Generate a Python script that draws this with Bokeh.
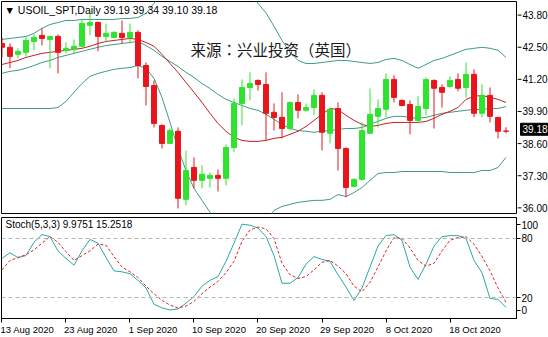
from bokeh.plotting import figure
from bokeh.layouts import column, row
from bokeh.models import (ColumnDataSource, Range1d, FixedTicker, Label, Span,
                          LinearAxis)
from bokeh.core.properties import value
from bokeh.embed import file_html
from bokeh.resources import INLINE

# ---------------- data ----------------
symbol = "USOIL_SPT"
timeframe = "Daily"
watermark = "来源：兴业投资（英国）"

open_ = [42.65, 42.50, 42.22, 42.30, 42.73, 42.97, 42.81, 42.93, 42.38, 42.42,
         42.54, 43.37, 43.48, 42.93, 42.89, 43.05, 42.89, 43.09, 41.78, 40.99,
         39.41, 38.70, 39.18, 36.49, 37.75, 37.24, 37.32, 37.44, 37.32, 38.54,
         40.28, 40.91, 41.19, 41.03, 39.93, 39.73, 39.29, 40.32, 40.01, 40.12,
         40.60, 39.10, 40.08, 38.50, 37.00, 37.28, 39.10, 39.77, 40.05, 41.23,
         40.40, 40.24, 39.61, 40.08, 41.19, 40.91, 40.95, 41.23, 40.91, 41.43,
         39.89, 40.60, 39.73, 39.19]
high = [42.89, 42.65, 42.46, 42.93, 43.01, 43.25, 42.93, 43.01, 42.69, 42.81,
        43.60, 43.84, 43.52, 43.44, 43.13, 43.56, 43.44, 43.17, 41.90, 41.19,
        39.45, 39.29, 39.33, 38.42, 38.15, 37.83, 37.55, 37.67, 38.66, 40.48,
        41.23, 41.51, 41.23, 41.51, 40.28, 40.72, 40.36, 40.64, 40.28, 40.84,
        40.72, 40.08, 40.32, 38.54, 37.32, 39.53, 40.87, 40.44, 41.47, 41.39,
        40.44, 40.40, 40.56, 41.31, 41.23, 41.03, 41.35, 41.47, 41.90, 41.63,
        41.03, 40.91, 39.73, 39.34]
low = [42.10, 41.67, 42.06, 42.14, 42.38, 42.57, 41.67, 41.47, 42.26, 42.26,
       42.50, 42.97, 42.34, 42.69, 42.85, 42.65, 42.65, 41.27, 40.20, 39.33,
       38.50, 38.70, 36.13, 36.25, 36.92, 36.92, 36.96, 36.80, 37.04, 38.35,
       39.41, 40.40, 40.79, 38.82, 39.21, 38.90, 39.21, 39.69, 39.97, 39.81,
       38.42, 38.70, 37.63, 36.57, 36.96, 37.24, 39.10, 39.33, 39.73, 40.32,
       40.16, 39.06, 39.49, 39.81, 39.29, 40.12, 40.91, 40.76, 40.52, 39.73,
       39.73, 39.53, 38.90, 39.10]
close = [42.50, 42.14, 42.34, 42.77, 42.89, 42.85, 42.93, 42.30, 42.46, 42.54,
         43.44, 43.48, 42.93, 43.05, 43.09, 42.89, 43.09, 41.78, 40.95, 39.49,
         38.70, 39.21, 36.53, 37.63, 37.24, 37.48, 37.44, 37.32, 38.54, 40.28,
         40.91, 41.07, 41.03, 39.89, 39.73, 39.29, 40.32, 40.01, 40.12, 40.60,
         39.14, 40.05, 38.50, 36.96, 37.28, 39.21, 39.85, 40.08, 41.23, 40.52,
         40.20, 39.61, 40.16, 41.23, 40.88, 40.72, 41.19, 40.88, 41.43, 39.89,
         40.60, 39.77, 39.18, 39.18]

bb_upper = [42.81, 42.85, 42.89, 42.93, 43.05, 43.25, 43.40, 43.48, 43.56, 43.56,
            43.60, 43.60, 43.60, 43.60, 43.60, 43.64, 43.64, 43.68, 43.84, 44.24,
            44.70, 45.10, 45.50, 45.80, 46.00, 46.10, 46.10, 46.00, 45.80, 45.50,
            45.10, 44.55, 44.24, 43.86, 43.33, 42.77, 42.30, 41.98, 41.86, 41.86,
            41.90, 41.94, 41.98, 41.98, 41.94, 41.90, 41.86, 41.90, 42.02, 42.06,
            41.98, 41.82, 41.67, 41.82, 41.98, 42.06, 42.18, 42.30, 42.42, 42.46,
            42.50, 42.46, 42.38, 42.10]
bb_middle = [41.47, 41.55, 41.59, 41.67, 41.78, 41.90, 41.98, 42.10, 42.18, 42.26,
             42.34, 42.42, 42.50, 42.57, 42.61, 42.65, 42.69, 42.73, 42.57, 42.38,
             42.14, 41.94, 41.74, 41.51, 41.31, 41.07, 40.87, 40.64, 40.44, 40.32,
             40.20, 40.08, 40.01, 39.85, 39.65, 39.45, 39.29, 39.21, 39.18, 39.14,
             39.18, 39.21, 39.25, 39.29, 39.29, 39.33, 39.45, 39.57, 39.69, 39.77,
             39.77, 39.73, 39.69, 39.73, 39.81, 39.89, 39.93, 39.97, 40.01, 40.04,
             40.04, 40.08, 40.08, 40.16]
bb_lower = [40.08, 40.08, 40.08, 40.08, 40.08, 40.08, 40.08, 40.12, 40.36, 40.72,
            41.07, 41.35, 41.47, 41.55, 41.63, 41.67, 41.70, 41.78, 41.67, 41.27,
            40.52, 39.53, 38.50, 37.63, 36.92, 36.45, 35.98, 35.58, 35.20, 34.95,
            34.90, 35.00, 35.20, 35.55, 36.05, 36.21, 36.29, 36.37, 36.41, 36.45,
            36.45, 36.49, 36.68, 36.60, 36.76, 36.96, 37.24, 37.51, 37.55, 37.55,
            37.59, 37.59, 37.59, 37.59, 37.59, 37.59, 37.55, 37.55, 37.55, 37.55,
            37.63, 37.63, 37.75, 38.15]
ma_red = [41.82, 41.90, 41.98, 42.10, 42.18, 42.26, 42.30, 42.34, 42.38, 42.42,
          42.46, 42.54, 42.65, 42.73, 42.77, 42.81, 42.85, 42.81, 42.69, 42.54,
          42.22, 41.86, 41.51, 41.11, 40.72, 40.32, 39.89, 39.49, 39.18, 38.94,
          38.82, 38.78, 38.78, 38.82, 38.90, 38.94, 39.06, 39.18, 39.37, 39.61,
          39.85, 40.08, 40.04, 39.81, 39.61, 39.45, 39.37, 39.41, 39.49, 39.53,
          39.53, 39.53, 39.53, 39.57, 39.69, 39.85, 39.97, 40.12, 40.44, 40.56,
          40.60, 40.52, 40.44, 40.32]

stoch_k = [59.7, 65.5, 60.6, 62.6, 76.1, 83.9, 81.9, 67.4, 59.7, 52.9,
           67.4, 79.0, 75.2, 60.6, 47.1, 46.1, 44.2, 37.4, 29.7, 13.2,
           9.4, 7.4, 8.4, 14.2, 21.0, 31.6, 37.4, 41.3, 56.8, 75.2,
           94.5, 93.5, 90.6, 81.9, 62.6, 34.5, 34.5, 40.3, 53.9, 61.6,
           58.7, 56.8, 43.2, 30.6, 17.1, 29.7, 51.0, 72.3, 83.0, 83.9,
           78.1, 51.0, 38.4, 53.9, 72.3, 81.9, 82.9, 82.9, 80.0, 57.7,
           45.2, 19.0, 18.1, 9.9751]
stoch_d = [48.1, 57.7, 60.6, 63.5, 68.4, 75.2, 81.9, 76.1, 66.5, 57.7,
           62.6, 67.4, 74.2, 73.2, 61.6, 51.0, 46.1, 40.3, 31.6, 23.9,
           17.1, 12.3, 9.4, 11.3, 16.1, 23.9, 30.6, 36.5, 45.2, 56.8,
           77.1, 88.7, 91.6, 89.7, 80.0, 54.8, 43.2, 39.4, 41.3, 48.1,
           55.8, 57.7, 51.9, 44.2, 31.6, 25.8, 35.5, 51.0, 67.4, 81.0,
           80.0, 70.3, 57.7, 51.9, 54.8, 67.4, 78.1, 81.0, 81.9, 74.2,
           61.6, 47.1, 29.7, 15.2518]

price_ticks = [36.00, 37.30, 38.60, 39.90, 41.20, 42.50, 43.80]
date_idx = [0, 8, 16, 24, 32, 40, 48, 56]
date_labels = ["13 Aug 2020", "23 Aug 2020", "1 Sep 2020", "10 Sep 2020",
               "20 Sep 2020", "29 Sep 2020", "8 Oct 2020", "18 Oct 2020"]
stoch_levels = [20, 80]
stoch_tick_pos = [7, 20, 80, 94]
stoch_tick_txt = ["0", "20", "80", "100"]

# ---------------- style ----------------
FONT = "Liberation Sans"
UP = "#2fe32f"
DOWN = "#e8161c"
BAND = "#3f9c84"
MA = "#c81e24"
K_COL = "#2aa8a2"
D_COL = "#d8262a"

n = len(close)
idx = list(range(n))
colors = [UP if c > o else DOWN for o, c in zip(open_, close)]
src = ColumnDataSource(dict(
    x=idx, o=open_, h=high, l=low, c=close,
    top=[max(o, c) for o, c in zip(open_, close)],
    bottom=[min(o, c) for o, c in zip(open_, close)],
    color=colors))

xr = Range1d(-0.06, 64.31)
Y0, Y1 = 35.93, 44.31
MAIN_H, MAIN_TOP, MAIN_BOT = 217, 1, 4
AXIS_W = 31

# ---------------- main price panel ----------------
p = figure(width=548 - AXIS_W, height=MAIN_H, x_range=xr, y_range=Range1d(Y0, Y1),
           output_backend="svg", toolbar_location=None,
           y_axis_location=None, x_axis_location=None,
           min_border_left=1, min_border_right=1, min_border_top=MAIN_TOP,
           min_border_bottom=MAIN_BOT, outline_line_color="black",
           background_fill_color="white", border_fill_color="white")
p.grid.visible = False

p.line(idx, bb_upper, color=BAND, line_width=1)
p.line(idx, bb_middle, color=BAND, line_width=1)
p.line(idx, bb_lower, color=BAND, line_width=1)
p.line(idx, ma_red, color=MA, line_width=1)

p.segment(x0="x", y0="l", x1="x", y1="h", color="color", line_width=1, source=src)
p.vbar(x="x", width=0.62, top="top", bottom="bottom", fill_color="color",
       line_color="color", line_width=1, source=src)

header = f"\u25bc {symbol},{timeframe}  {open_[-1]:.2f} {high[-1]:.2f} {low[-1]:.2f} {close[-1]:.2f}"
p.add_layout(Label(x=3, y=MAIN_H - MAIN_TOP - MAIN_BOT - 8, x_units="screen",
                   y_units="screen", text=header,
                   text_font=FONT, text_font_size="10.5px", text_baseline="middle",
                   text_color="black"))
p.add_layout(Label(x=189, y=165, x_units="screen", y_units="screen", text=watermark,
                   text_font="Noto Sans CJK TC", text_font_size="15.5px",
                   text_baseline="middle", text_color="#1a1a1a"))

# ---------------- price scale strip (right of the price panel) ----------------
frame_h = MAIN_H - MAIN_TOP - MAIN_BOT
ppu = frame_h / (Y1 - Y0)
strip_yr = Range1d(Y0 - MAIN_BOT / ppu, Y1 + MAIN_TOP / ppu)
ax = figure(width=AXIS_W, height=MAIN_H, x_range=Range1d(0, AXIS_W), y_range=strip_yr,
            output_backend="svg", toolbar_location=None,
            y_axis_location=None, x_axis_location=None,
            min_border_left=0, min_border_right=0, min_border_top=0,
            min_border_bottom=0, outline_line_color=None,
            background_fill_color="white", border_fill_color="white")
ax.grid.visible = False
tick_src = ColumnDataSource(dict(y=price_ticks, t=[f"{v:.2f}" for v in price_ticks]))
ax.segment(x0=0, y0="y", x1=4, y1="y", color="black", line_width=1, source=tick_src)
ax.text(x=5, y="y", text="t", source=tick_src, text_font=value(FONT),
        text_font_size="10px", text_baseline="middle", text_align="left",
        text_color="black")
last_src = ColumnDataSource(dict(y=[close[-1]], t=[f"{close[-1]:.2f}"]))
ax.rect(x=17, y="y", width=28, height=12, width_units="screen",
        height_units="screen", fill_color="black", line_color="black", source=last_src)
ax.text(x=5, y="y", text="t", source=last_src, text_font=value(FONT),
        text_font_size="10px", text_baseline="middle", text_align="left",
        text_color="white")

# ---------------- stochastic panel ----------------
s = figure(width=548, height=120, x_range=xr, y_range=Range1d(-1.3, 101.3),
           output_backend="svg", toolbar_location=None,
           y_axis_location="right",
           min_border_left=1, min_border_right=AXIS_W + 1, min_border_top=0,
           min_border_bottom=14, outline_line_color="black",
           background_fill_color="white", border_fill_color="white")
s.grid.visible = False
for lv in stoch_levels:
    s.add_layout(Span(location=lv, dimension="width", line_color="#b5b5b5",
                      line_dash="4 3", line_width=1))
s.line(idx, stoch_k, color=K_COL, line_width=1)
s.line(idx, stoch_d, color=D_COL, line_width=1, line_dash="3 2")

sy = s.yaxis[0]
sy.ticker = FixedTicker(ticks=stoch_tick_pos)
sy.major_label_overrides = {t: l for t, l in zip(stoch_tick_pos, stoch_tick_txt)}
sy.major_tick_out = 4
sy.major_tick_in = 0
sy.minor_tick_out = 0
sy.minor_tick_in = 0
sy.major_label_standoff = 1
sy.axis_line_color = "black"
sy.major_label_text_font = FONT
sy.major_label_text_font_size = "10px"
sy.major_label_text_color = "black"

sx = s.xaxis[0]
sx.ticker = FixedTicker(ticks=date_idx)
sx.major_label_overrides = {t: "" for t in date_idx}
sx.major_label_text_font_size = "1px"
sx.major_label_standoff = 0
sx.major_tick_out = 4
sx.major_tick_in = 0
sx.minor_tick_out = 0
sx.minor_tick_in = 0
sx.axis_line_color = "black"

shifts = [d + len(t) * 0.25 + 0.375 for d, t in zip(date_idx, date_labels)]
lab_axis = LinearAxis(ticker=FixedTicker(ticks=shifts),
                      major_label_overrides={v: t for v, t in zip(shifts, date_labels)},
                      major_tick_out=0, major_tick_in=0, minor_tick_out=0,
                      minor_tick_in=0, axis_line_color=None, major_label_standoff=1,
                      major_label_text_font=FONT, major_label_text_font_size="9.5px",
                      major_label_text_color="black")
s.add_layout(lab_axis, "below")

stoch_txt = f"Stoch(5,3,3) {stoch_k[-1]:.4f} {stoch_d[-1]:.4f}"
s.add_layout(Label(x=4, y=94, x_units="screen", y_units="screen", text=stoch_txt,
                   text_font=FONT, text_font_size="10px", text_baseline="middle",
                   text_color="black"))

layout = column(row(p, ax, spacing=0), s, spacing=0)
open("out.html", "w").write(file_html(layout, INLINE))
